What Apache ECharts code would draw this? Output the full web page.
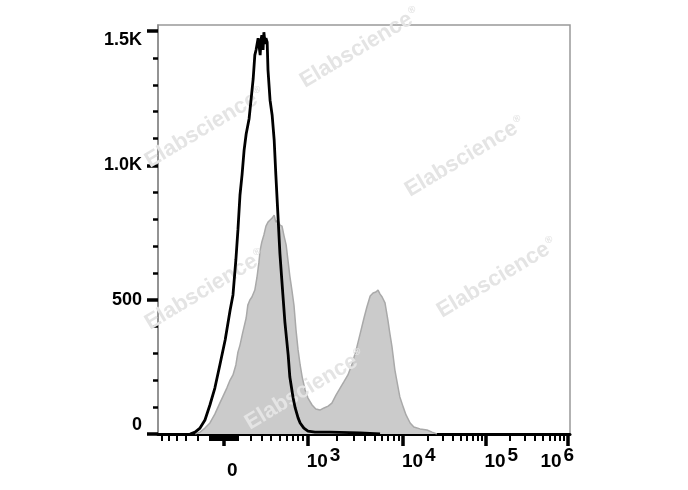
<!DOCTYPE html>
<html>
<head>
<meta charset="utf-8">
<script src="https://cdn.jsdelivr.net/npm/echarts@6/dist/echarts.min.js"></script>
<style>html,body{margin:0;padding:0;background:#fff}#c{width:688px;height:490px}</style>
</head>
<body>
<div id="c"></div>
<script>
// ---------- data (x in display channels 0..1000 of a biexponential axis, y = count) ----------
const blackX = [78,90,102,114,126,138,150,163,175,182,189,194,199,204,209,214,221,226,231,235,238,243,248,250,252,255,257,260,262,265,267,272,277,282,286,291,296,303,308,316,320,328,333,340,345,354,364,381,417,490,539];
const blackY = [0,7,22,52,108,171,256,350,461,518,648,760,890,965,1057,1117,1173,1247,1322,1411,1430,1474,1411,1467,1485,1430,1496,1452,1474,1459,1355,1243,1188,1094,966,819,670,521,417,294,212,134,97,60,41,22,11,7,7,4,0];

const grayX = [90,102,114,126,138,150,158,167,175,182,189,194,199,206,214,218,223,228,235,240,245,248,252,257,262,267,272,277,282,286,291,296,301,306,311,316,320,325,330,335,340,345,350,357,364,374,383,393,403,413,422,432,442,451,461,471,481,490,500,507,515,522,529,534,539,544,551,558,563,568,575,583,587,595,602,612,621,636,653,665,677];
const grayY = [0,7,22,41,74,115,141,171,201,220,257,305,331,380,432,480,499,510,536,581,640,685,715,741,774,789,797,804,815,789,797,778,774,737,704,640,588,536,480,387,313,257,212,164,134,108,93,89,97,104,115,145,171,194,220,261,313,369,432,473,514,525,529,536,521,510,488,424,372,324,238,171,138,101,71,41,26,19,15,7,0];

// axis ticks (intensity values) and labels
const xMajorValues = [0, 1e3, 1e4, 1e5, 1e6];
const xLabelBase = ['0', '10', '10', '10', '10'];
const xLabelSup = ['', '3', '4', '5', '6'];
const xMinorLinear = [-600,-500,-400,-300,-200,-100,-90,-80,-70,-60,-50,-40,-30,-20,-10,10,20,30,40,50,60,70,80,90,100,200,300,400,500,600,700,800,900];
const xMinorMultipliers = [2,3,4,5,6,7,8,9];
const xMinorDecades = [1e3, 1e4, 1e5];

const yMajorValues = [0, 500, 1000, 1500];
const yMinorValues = [100,200,300,400,600,700,800,900,1100,1200,1300,1400];

// biexponential display transform (intensity -> channel)
const LIN_ZERO = 160, LIN_A = 109.5, LIN_C = 320;
const DECADE_CH = [364, 594.5, 795, 994]; // channels of 10^3 .. 10^6
function toChannel(v) {
  if (Math.abs(v) <= 1000) return LIN_ZERO + LIN_A * Math.asinh(v / LIN_C);
  const l = Math.log10(v);
  const i = Math.min(2, Math.floor(l) - 3);
  return DECADE_CH[i] + (l - 3 - i) * (DECADE_CH[i + 1] - DECADE_CH[i]);
}

const xMinorValues = xMinorLinear.slice();
xMinorDecades.forEach(d => xMinorMultipliers.forEach(m => xMinorValues.push(m * d)));
const xMajorCh = xMajorValues.map(toChannel);
const xMinorCh = xMinorValues.map(toChannel).filter(c => c >= 0 && c <= 1000);

const zip = (a, b) => a.map((v, i) => [v, b[i]]);

const chart = echarts.init(document.getElementById('c'));
const FONT = '"Liberation Sans", Arial, sans-serif';

const watermarks = [[360,48],[205,128],[465,157],[205,290],[497,278],[305,390]].map(p => ({
  type: 'text', x: p[0], y: p[1], rotation: 0.54, z: 2,
  style: {
    text: '{a|Elabscience}{r|®}', align: 'center', verticalAlign: 'middle',
    rich: {
      a: { font: 'bold 22px ' + FONT, fill: '#e4e4e4' },
      r: { font: 'bold 10px ' + FONT, fill: '#e4e4e4', verticalAlign: 'top', padding: [0,0,12,1] }
    }
  }
}));

chart.setOption({
  animation: false,
  grid: { left: 158, top: 25, right: 118, bottom: 56, show: true, borderColor: '#999', borderWidth: 1.5, backgroundColor: 'transparent' },
  graphic: { elements: watermarks },
  xAxis: [
    { type: 'value', min: 0, max: 1000, position: 'bottom',
      axisLine: { show: true, onZero: false, lineStyle: { color: '#000', width: 3 } },
      axisTick: { show: true, customValues: xMajorCh, length: 12, lineStyle: { color: '#000', width: 3.5 } },
      axisLabel: { show: false }, splitLine: { show: false } },
    { type: 'value', min: 0, max: 1000, position: 'bottom',
      axisLine: { show: false, onZero: false },
      axisTick: { show: true, customValues: xMinorCh, length: 7, lineStyle: { color: '#000', width: 2 } },
      axisLabel: { show: false }, splitLine: { show: false } }
  ],
  yAxis: [
    { type: 'value', min: 0, max: 1523,
      axisLine: { show: true, onZero: false, lineStyle: { color: '#888', width: 1.5 } },
      axisTick: { show: true, customValues: yMajorValues, length: 11, lineStyle: { color: '#000', width: 3.5 } },
      axisLabel: { show: true, customValues: yMajorValues, margin: 16, color: '#000', fontSize: 18, fontWeight: 'bold', fontFamily: FONT,
        verticalAlignMinLabel: 'bottom', verticalAlignMaxLabel: 'top',
        formatter: v => v >= 1000 ? (v / 1000).toFixed(1) + 'K' : String(v) },
      splitLine: { show: false } },
    { type: 'value', min: 0, max: 1523, position: 'left',
      axisLine: { show: false, onZero: false },
      axisTick: { show: true, customValues: yMinorValues, length: 5, lineStyle: { color: '#000', width: 2.5 } },
      axisLabel: { show: false }, splitLine: { show: false } }
  ],
  series: [
    { type: 'line', data: zip(grayX, grayY), symbol: 'none', z: 1,
      lineStyle: { color: '#a9a9a9', width: 1.5 }, areaStyle: { color: '#cbcbcb', opacity: 1 } },
    { type: 'line', data: zip(blackX, blackY), symbol: 'none', z: 3,
      lineStyle: { color: '#000', width: 2.8 } },
    { type: 'custom', clip: false, z: 4, silent: true,
      data: xMajorCh.map((c, i) => [c, 0, i]),
      renderItem: function (params, api) {
        const i = api.value(2);
        const p = api.coord([api.value(0), 0]);
        const base = xLabelBase[i], sup = xLabelSup[i];
        const font = 'bold 19px ' + FONT;
        if (!sup) {
          return { type: 'text', x: p[0] + 3, y: p[1] + 37,
            style: { text: base, font: font, fill: '#000', align: 'left', verticalAlign: 'middle', textAlign: 'left', textVerticalAlign: 'middle' } };
        }
        const last = i === xMajorCh.length - 1;
        const x0 = last ? p[0] - 27 : p[0] - 1;
        return { type: 'group', children: [
          { type: 'text', x: x0, y: p[1] + 28,
            style: { text: base, font: font, fill: '#000', align: 'left', verticalAlign: 'middle', textAlign: 'left', textVerticalAlign: 'middle' } },
          { type: 'text', x: x0 + 23, y: p[1] + 22,
            style: { text: sup, font: font, fill: '#000', align: 'left', verticalAlign: 'middle', textAlign: 'left', textVerticalAlign: 'middle' } }
        ] };
      } }
  ]
});
</script>
</body>
</html>
